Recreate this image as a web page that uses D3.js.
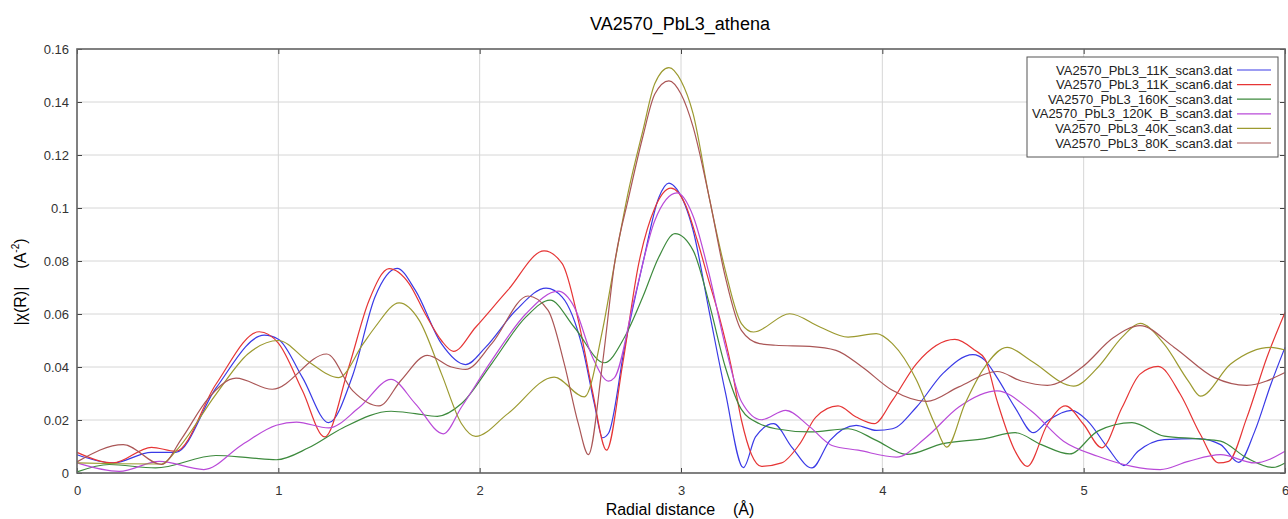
<!DOCTYPE html>
<html lang="en">
<head>
<meta charset="utf-8">
<script src="https://d3js.org/d3.v7.min.js"></script>
<style type="text/css">
body {
	margin: 0;
	background: white;
	font-family: "Liberation Sans", Arial, sans-serif;
}
.grid line {
	stroke: #d6d6d6;
	stroke-width: 1;
}
.tick text {
	fill: #333;
	font-size: 13px;
}
</style>
</head>
<body>
<svg id="chart"></svg>
<script type="text/javascript">

// series names (legend order) and colours
var seriesNames = [
	"VA2570_PbL3_11K_scan3.dat",
	"VA2570_PbL3_11K_scan6.dat",
	"VA2570_PbL3_160K_scan3.dat",
	"VA2570_PbL3_120K_B_scan3.dat",
	"VA2570_PbL3_40K_scan3.dat",
	"VA2570_PbL3_80K_scan3.dat"
];
var seriesColors = ["#3a3ae6", "#e63535", "#3d8a3d", "#b94ad8", "#9c9a30", "#aa5656"];

// [R (Å), |chi(R)|]
var s11kScan3 = [[0,.0069],[0.18,.0038],[0.37,.0078],[0.49,.0078],[0.69,.032],[0.93,.052],[1.0,.0505],[1.12,.036],[1.25,.019],[1.37,.037],[1.48,.0664],[1.59,.0772],[1.68,.069],[1.81,.0488],[1.93,.0409],[2.03,.0475],[2.18,.0614],[2.33,.0698],[2.41,.0664],[2.51,.0475],[2.57,.026],[2.61,.0133],[2.64,.015],[2.72,.0475],[2.81,.079],[2.89,.104],[2.94,.1094],[2.98,.107],[3.06,.0916],[3.14,.061],[3.22,.0306],[3.31,.002],[3.37,.0136],[3.46,.0186],[3.55,.0098],[3.65,.0019],[3.74,.0123],[3.87,.018],[3.97,.0161],[4.05,.0167],[4.17,.0249],[4.30,.0375],[4.45,.0447],[4.51,.0425],[4.57,.036],[4.66,.0246],[4.75,.0152],[4.82,.0196],[4.94,.0236],[5.02,.0196],[5.12,.0095],[5.20,.0028],[5.27,.0082],[5.40,.0126],[5.57,.013],[5.68,.0107],[5.77,.004],[5.85,.0158],[5.93,.0335],[6.0,.0474]];
var s11kScan6 = [[0,.0078],[0.18,.0038],[0.37,.0097],[0.49,.0082],[0.69,.0335],[0.905,.0533],[1.0,.049],[1.12,.031],[1.23,.0136],[1.35,.040],[1.45,.065],[1.55,.0771],[1.65,.0714],[1.73,.060],[1.81,.050],[1.87,.0459],[1.98,.055],[2.14,.069],[2.32,.0838],[2.41,.079],[2.49,.0576],[2.56,.031],[2.63,.0086],[2.71,.041],[2.79,.079],[2.87,.100],[2.95,.1075],[3.02,.1016],[3.08,.088],[3.14,.072],[3.19,.059],[3.25,.040],[3.30,.020],[3.35,.007],[3.40,.0025],[3.50,.0038],[3.59,.011],[3.67,.0211],[3.78,.0253],[3.87,.0211],[3.96,.0186],[4.05,.0274],[4.17,.0413],[4.36,.0504],[4.46,.0463],[4.51,.043],[4.57,.0272],[4.66,.0082],[4.72,.0025],[4.82,.0183],[4.91,.0253],[5.0,.0183],[5.09,.0095],[5.19,.0246],[5.28,.0373],[5.37,.0402],[5.48,.0297],[5.58,.0145],[5.67,.0038],[5.72,.0044],[5.81,.0208],[5.91,.0436],[6.0,.0606]];
var s160kScan3 = [[0,.0004],[0.16,.0032],[0.39,.0019],[0.69,.0066],[0.86,.0057],[0.99,.005],[1.15,.0095],[1.32,.017],[1.56,.0233],[1.68,.0224],[1.79,.0214],[1.91,.0262],[2.06,.0413],[2.23,.0589],[2.35,.0652],[2.47,.055],[2.62,.0416],[2.72,.0513],[2.81,.0664],[2.89,.0815],[2.97,.0903],[3.06,.084],[3.14,.064],[3.22,.040],[3.30,.024],[3.39,.0186],[3.47,.0167],[3.64,.0155],[3.83,.0167],[3.97,.0123],[4.12,.007],[4.30,.0111],[4.51,.013],[4.66,.0152],[4.79,.0107],[4.93,.0072],[5.07,.0158],[5.24,.019],[5.40,.0139],[5.57,.0129],[5.68,.012],[5.81,.0057],[5.94,.0021],[6.0,.0038]];
var s120kBScan3 = [[0,.0038],[0.21,.0006],[0.41,.0044],[0.63,.0013],[0.82,.0107],[0.99,.018],[1.09,.0192],[1.25,.017],[1.40,.0246],[1.56,.0353],[1.68,.0262],[1.82,.0148],[1.91,.0249],[2.06,.0425],[2.23,.0601],[2.39,.0686],[2.47,.0626],[2.56,.0438],[2.64,.0347],[2.67,.036],[2.77,.0664],[2.87,.0953],[2.98,.1057],[3.06,.097],[3.14,.075],[3.22,.048],[3.30,.027],[3.40,.0201],[3.52,.0236],[3.64,.0174],[3.75,.0104],[3.88,.0086],[4.07,.006],[4.22,.0136],[4.38,.0249],[4.57,.031],[4.74,.0234],[4.90,.012],[5.07,.0063],[5.24,.0025],[5.38,.0013],[5.52,.0044],[5.68,.0069],[5.85,.0038],[6.0,.0082]];
var s40kScan3 = [[0,.0038],[0.2,.0035],[0.42,.0034],[0.49,.0082],[0.69,.0297],[0.85,.045],[1.0,.050],[1.15,.042],[1.30,.036],[1.42,.0486],[1.48,.055],[1.60,.0642],[1.70,.0576],[1.81,.0375],[1.91,.0186],[1.98,.0138],[2.14,.0224],[2.37,.0362],[2.52,.0287],[2.61,.0538],[2.67,.079],[2.74,.1067],[2.81,.129],[2.87,.147],[2.94,.153],[3.00,.148],[3.06,.1356],[3.14,.104],[3.22,.0765],[3.30,.0564],[3.36,.0532],[3.54,.0601],[3.69,.0551],[3.83,.0513],[3.97,.0526],[4.05,.0488],[4.17,.035],[4.26,.0186],[4.32,.0098],[4.41,.026],[4.50,.039],[4.62,.0474],[4.74,.0423],[4.95,.0328],[5.07,.0398],[5.19,.0512],[5.28,.0565],[5.40,.0486],[5.52,.0347],[5.58,.029],[5.73,.0411],[5.93,.0474],[6.0,.0464]];
var s80kScan3 = [[0,.0042],[0.23,.0107],[0.42,.0032],[0.52,.013],[0.65,.028],[0.79,.0358],[0.97,.0316],[1.24,.0449],[1.37,.031],[1.50,.0253],[1.61,.035],[1.74,.0444],[1.86,.040],[1.93,.0391],[2.06,.0488],[2.24,.0668],[2.34,.0614],[2.42,.0413],[2.49,.0186],[2.54,.0069],[2.61,.0413],[2.67,.079],[2.74,.104],[2.81,.1268],[2.87,.143],[2.94,.148],[3.00,.143],[3.06,.1306],[3.14,.104],[3.22,.074],[3.30,.0538],[3.39,.0488],[3.47,.0482],[3.64,.0478],[3.77,.0463],[3.90,.040],[4.05,.0312],[4.22,.027],[4.38,.0325],[4.57,.0383],[4.69,.0347],[4.82,.0331],[4.99,.0398],[5.15,.0512],[5.28,.0556],[5.45,.0474],[5.65,.036],[5.81,.0331],[6.0,.0379]];

var allSeries = [s11kScan3, s11kScan6, s160kScan3, s120kBScan3, s40kScan3, s80kScan3];

var xTicks = [0, 1, 2, 3, 4, 5, 6];
var yTicks = [0, 0.02, 0.04, 0.06, 0.08, 0.1, 0.12, 0.14, 0.16];
var yTickLabels = ["0", "0.02", "0.04", "0.06", "0.08", "0.1", "0.12", "0.14", "0.16"];

var width = 1288, height = 519;
var plotLeft = 77, plotRight = 1285, plotTop = 49, plotBottom = 473;

var svg = d3.select("#chart")
	.attr("width", width)
	.attr("height", height);

var x = d3.scaleLinear().domain([0, 6]).range([plotLeft, plotRight]);
var y = d3.scaleLinear().domain([0, 0.16]).range([plotBottom, plotTop]);

// grid
var grid = svg.append("g").attr("class", "grid");
grid.selectAll(".gx").data(xTicks).join("line")
	.attr("x1", d => x(d)).attr("x2", d => x(d))
	.attr("y1", plotTop).attr("y2", plotBottom);
grid.selectAll(".gy").data(yTicks).join("line")
	.attr("x1", plotLeft).attr("x2", plotRight)
	.attr("y1", d => y(d)).attr("y2", d => y(d));

// axes (ticks pointing inward)
function darkTicks(g) {
	g.select(".domain").remove();
	g.selectAll(".tick line").attr("stroke", "#444");
}
svg.append("g")
	.attr("transform", "translate(0," + plotBottom + ")")
	.call(d3.axisBottom(x).tickValues(xTicks).tickFormat(d3.format("d")).tickSizeInner(-5).tickSizeOuter(0).tickPadding(13))
	.call(darkTicks);
svg.append("g")
	.attr("transform", "translate(0," + plotTop + ")")
	.call(d3.axisTop(x).tickValues(xTicks).tickFormat("").tickSizeInner(-5).tickSizeOuter(0))
	.call(darkTicks);
svg.append("g")
	.attr("transform", "translate(" + plotLeft + ",0)")
	.call(d3.axisLeft(y).tickValues(yTicks).tickFormat((d, i) => yTickLabels[i]).tickSizeInner(-5).tickSizeOuter(0).tickPadding(8))
	.call(darkTicks);
svg.append("g")
	.attr("transform", "translate(" + plotRight + ",0)")
	.call(d3.axisRight(y).tickValues(yTicks).tickFormat("").tickSizeInner(-5).tickSizeOuter(0))
	.call(darkTicks);

// lines
var line = d3.line()
	.x(d => x(d[0]))
	.y(d => y(d[1]))
	.curve(d3.curveMonotoneX);

svg.append("g").selectAll("path")
	.data(allSeries)
	.join("path")
	.attr("d", line)
	.attr("fill", "none")
	.attr("stroke", (d, i) => seriesColors[i])
	.attr("stroke-width", 1.2);

// frame
svg.append("rect")
	.attr("x", plotLeft).attr("y", plotTop)
	.attr("width", plotRight - plotLeft).attr("height", plotBottom - plotTop)
	.attr("fill", "none")
	.attr("stroke", "#666")
	.attr("stroke-width", 1.6);

// title
svg.append("text")
	.attr("x", 680).attr("y", 30)
	.attr("text-anchor", "middle")
	.style("font-size", "18px")
	.text("VA2570_PbL3_athena");

// x label
var xl = svg.append("text")
	.attr("x", 680).attr("y", 515)
	.attr("text-anchor", "middle")
	.style("font-size", "16px");
xl.append("tspan").text("Radial distance");
xl.append("tspan").attr("dx", 18).text("(Å)");

// y label
var yl = svg.append("text")
	.attr("transform", "translate(26,282) rotate(-90)")
	.attr("text-anchor", "middle")
	.style("font-size", "16px");
yl.append("tspan").text("|χ(R)|");
yl.append("tspan").attr("dx", 18).text("(A");
yl.append("tspan").attr("dy", -7).style("font-size", "10px").text("-2");
yl.append("tspan").attr("dy", 7).text(")");

// legend
var legend = svg.append("g");
legend.append("rect")
	.attr("x", 1027).attr("y", 57)
	.attr("width", 251).attr("height", 100)
	.attr("fill", "white")
	.attr("stroke", "#555")
	.attr("stroke-width", 1);
var rows = legend.selectAll(".row").data(seriesNames).join("g")
	.attr("transform", (d, i) => "translate(0," + (70 + i * 14.6) + ")");
rows.append("text")
	.attr("x", 1232).attr("y", 4.5)
	.attr("text-anchor", "end")
	.style("font-size", "13px")
	.attr("fill", "#222")
	.text(d => d);
rows.append("line")
	.attr("x1", 1237).attr("x2", 1271)
	.attr("y1", 0).attr("y2", 0)
	.attr("stroke", (d, i) => seriesColors[i])
	.attr("stroke-width", 1.2);

</script>
</body>
</html>
